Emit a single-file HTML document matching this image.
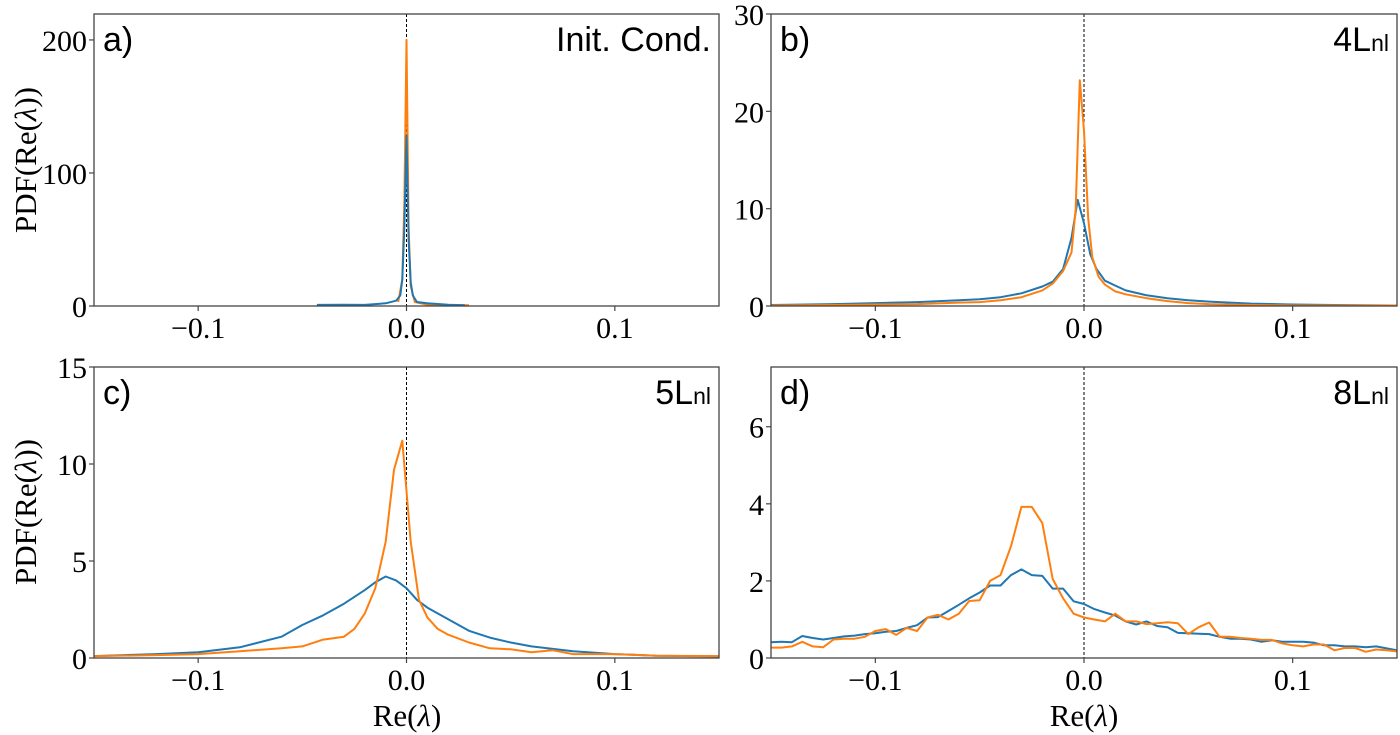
<!DOCTYPE html>
<html><head><meta charset="utf-8">
<style>
html,body{margin:0;padding:0;background:#fff;}
svg{display:block;}
.tick{font-family:"Liberation Serif",serif;font-size:30px;fill:#000;}
.lab{font-family:"Liberation Sans","DejaVu Sans",sans-serif;font-size:34px;fill:#000;}
.axl{font-family:"Liberation Serif",serif;font-size:31px;fill:#000;}
</style></head>
<body>
<svg id="fig" width="1400" height="735" viewBox="0 0 1400 735" xmlns="http://www.w3.org/2000/svg">
<text class="axl" transform="translate(36,160) rotate(-90)" text-anchor="middle">PDF(Re(<tspan font-style="italic">λ</tspan>))</text>
<text class="axl" transform="translate(36,512) rotate(-90)" text-anchor="middle">PDF(Re(<tspan font-style="italic">λ</tspan>))</text>
<text class="axl" x="407" y="726" text-anchor="middle">Re(<tspan font-style="italic">λ</tspan>)</text>
<text class="axl" x="1084" y="726" text-anchor="middle">Re(<tspan font-style="italic">λ</tspan>)</text>
</svg>
<script>
// ---- data ----
const xTicks = [-0.1, 0.0, 0.1];
const xTickLabels = ["\u22120.1", "0.0", "0.1"];
const aYTicks = [0, 100, 200];
const bYTicks = [0, 10, 20, 30];
const cYTicks = [0, 5, 10, 15];
const dYTicks = [0, 2, 4, 6];

const aBlueX = [-0.043,-0.03,-0.02,-0.01,-0.005,-0.003,-0.002,-0.001,0,0.001,0.002,0.003,0.005,0.01,0.02,0.028];
const aBlueY = [0.8,1,0.8,2,4,8,20,60,128,50,18,8,3,2,1,0.5];
const aOrangeX = [-0.004,-0.002,-0.001,0,0.001,0.002,0.004,0.01,0.03];
const aOrangeY = [3,20,80,200,60,15,3,1,0.5];

const bBlueX = [-0.15,-0.12,-0.1,-0.08,-0.06,-0.05,-0.04,-0.03,-0.02,-0.015,-0.01,-0.006,-0.003,0,0.003,0.006,0.01,0.015,0.02,0.03,0.04,0.05,0.06,0.08,0.1,0.12,0.15];
const bBlueY = [0.1,0.2,0.3,0.4,0.6,0.7,0.9,1.3,2.0,2.5,3.8,7.0,10.9,8.5,5.3,3.8,2.6,2.1,1.6,1.1,0.8,0.6,0.45,0.25,0.15,0.1,0.05];
const bOrangeX = [-0.15,-0.12,-0.1,-0.08,-0.06,-0.05,-0.04,-0.03,-0.02,-0.015,-0.01,-0.006,-0.004,-0.002,0,0.002,0.004,0.007,0.01,0.015,0.02,0.03,0.04,0.05,0.06,0.08,0.1,0.15];
const bOrangeY = [0.05,0.1,0.15,0.2,0.35,0.4,0.6,0.9,1.6,2.3,3.6,5.5,10,23.2,18,9,5,3,2.2,1.5,1.2,0.8,0.5,0.3,0.2,0.1,0.05,0.05];

const cBlueX = [-0.15,-0.12,-0.1,-0.08,-0.06,-0.05,-0.04,-0.03,-0.02,-0.015,-0.01,-0.005,0,0.005,0.01,0.02,0.03,0.04,0.05,0.06,0.08,0.1,0.12,0.15];
const cBlueY = [0.1,0.2,0.3,0.55,1.1,1.7,2.2,2.8,3.5,3.9,4.2,4.0,3.6,3.0,2.6,2.0,1.4,1.05,0.8,0.6,0.35,0.2,0.12,0.08];
const cOrangeX = [-0.15,-0.12,-0.1,-0.08,-0.06,-0.05,-0.04,-0.03,-0.025,-0.02,-0.015,-0.01,-0.006,-0.002,0.002,0.006,0.01,0.015,0.02,0.03,0.04,0.05,0.06,0.07,0.08,0.1,0.12,0.15];
const cOrangeY = [0.1,0.15,0.2,0.35,0.5,0.6,0.95,1.1,1.5,2.3,3.6,6.0,9.7,11.2,6.0,3.0,2.1,1.5,1.2,0.8,0.5,0.45,0.3,0.4,0.2,0.2,0.12,0.1];

const dX0 = -0.15, dStep = 0.005;
const dBlueY = [.41,.42,.41,.57,.52,.48,.52,.56,.58,.62,.64,.68,.70,.78,.85,1.05,1.06,1.22,
  1.38,1.55,1.7,1.88,1.88,2.15,2.3,2.15,2.13,1.8,1.8,1.47,1.4,
  1.27,1.18,1.1,.95,.87,.95,.83,.8,.65,.64,.63,.62,.55,.5,.5,.48,.42,.46,.42,.42,.42,.4,.33,.33,.3,.3,.28,.3,.25,.2];
const dOrangeY = [.27,.27,.3,.42,.3,.28,.48,.5,.5,.55,.7,.75,.6,.78,.7,1.05,1.12,1.0,1.15,1.48,1.5,2.0,2.15,
  2.9,3.92,3.92,3.5,2.05,1.55,1.15,1.05,
  1.0,.95,1.15,.95,.95,.88,.9,.93,.9,.62,.8,.92,.55,.55,.52,.5,.47,.47,.38,.33,.3,.35,.35,.2,.26,.26,.16,.22,.2,.17];

// ---- drawing ----
const NS = "http://www.w3.org/2000/svg";
const svg = document.getElementById('fig');
function mk(tag, attrs, parent){
  const e = document.createElementNS(NS, tag);
  for (const k in attrs) e.setAttribute(k, attrs[k]);
  (parent||svg).appendChild(e);
  return e;
}
function panel(id, L, R, T, B, ymax, yTicks, label, title, series){
  const g = mk('g', {});
  
  
  const sx = v => L + (v + 0.15) / 0.3 * (R - L);
  const sy = v => B - v / ymax * (B - T);
  const clip = mk('clipPath', {id: 'clip-' + id}, g);
  mk('rect', {x: L, y: T, width: R - L, height: B - T}, clip);
  const z = mk('line', {x1: sx(0), x2: sx(0), y1: T, y2: B, stroke: '#000', 'stroke-width': 1, 'stroke-dasharray': '3,2'}, g);
  
  
  series.forEach(s => {
    const pts = s.x.map((xv, i) => sx(xv).toFixed(1) + ',' + sy(s.y[i]).toFixed(1)).join(' ');
    const pl = mk('polyline', {points: pts, fill: 'none', stroke: s.color, 'stroke-width': 2, 'stroke-linejoin': 'round', 'clip-path': 'url(#clip-' + id + ')'}, g);
    
    
  });
  const fr = mk('rect', {x: L, y: T, width: R - L, height: B - T, fill: 'none', stroke: '#444', 'stroke-width': 1.3}, g);
  
  
  xTicks.forEach((t, i) => {
    mk('line', {x1: sx(t), x2: sx(t), y1: B, y2: B + 5, stroke: '#444', 'stroke-width': 1.2}, g);
    const tx = mk('text', {x: sx(t), y: B + 32, 'text-anchor': 'middle', class: 'tick'}, g);
    tx.textContent = xTickLabels[i];
    
    
  });
  yTicks.forEach(t => {
    mk('line', {x1: L - 5, x2: L, y1: sy(t), y2: sy(t), stroke: '#444', 'stroke-width': 1.2}, g);
    const ty = mk('text', {x: L - 7, y: sy(t) + 11, 'text-anchor': 'end', class: 'tick'}, g);
    ty.textContent = String(t);
    
    
  });
  const pl = mk('text', {x: L + 9, y: T + 37, class: 'lab'}, g);
  pl.textContent = label;
  
  
  const tt = mk('text', {x: R - 8, y: T + 37, 'text-anchor': 'end', class: 'lab'}, g);
  tt.innerHTML = title;
  
  
}
const dX = dBlueY.map((_, i) => dX0 + i * dStep);
panel('a', 94, 719, 14, 306, 219.5, aYTicks, 'a)', 'Init. Cond.', [
  {x: aOrangeX, y: aOrangeY, color: '#ff7f0e', name: 'series-orange'},
  {x: aBlueX, y: aBlueY, color: '#1f77b4', name: 'series-blue'}]);
panel('b', 771, 1397, 14, 306, 30, bYTicks, 'b)', '4L<tspan font-size="23px">nl</tspan>', [
  {x: bBlueX, y: bBlueY, color: '#1f77b4', name: 'series-blue'},
  {x: bOrangeX, y: bOrangeY, color: '#ff7f0e', name: 'series-orange'}]);
panel('c', 94, 719, 367, 658, 15, cYTicks, 'c)', '5L<tspan font-size="23px">nl</tspan>', [
  {x: cBlueX, y: cBlueY, color: '#1f77b4', name: 'series-blue'},
  {x: cOrangeX, y: cOrangeY, color: '#ff7f0e', name: 'series-orange'}]);
panel('d', 771, 1397, 367, 658, 7.55, dYTicks, 'd)', '8L<tspan font-size="23px">nl</tspan>', [
  {x: dX, y: dBlueY, color: '#1f77b4', name: 'series-blue'},
  {x: dX, y: dOrangeY, color: '#ff7f0e', name: 'series-orange'}]);
</script>
</body></html>
